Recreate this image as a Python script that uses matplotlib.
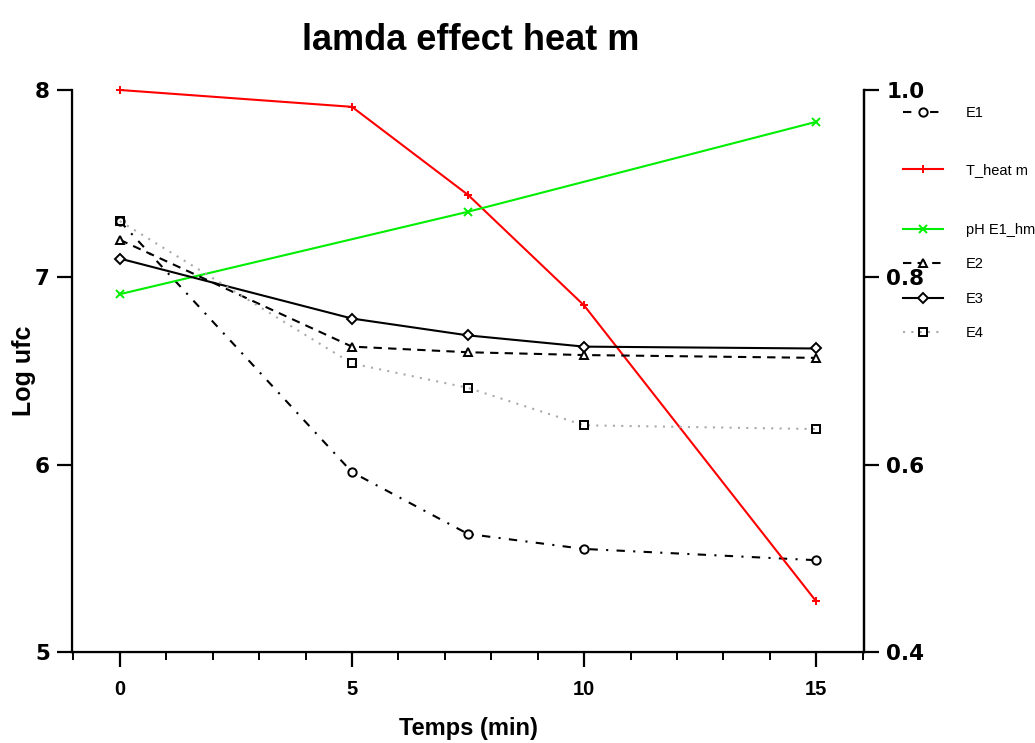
import matplotlib
matplotlib.use("Agg")
import matplotlib.pyplot as plt
from matplotlib.ticker import MultipleLocator, FixedLocator, FormatStrFormatter
from matplotlib import font_manager

# --- data -------------------------------------------------------------
time_all = [0, 5, 7.5, 10, 15]
time_ph = [0, 7.5, 15]

e1 = [7.30, 5.96, 5.63, 5.55, 5.49]
t_heat = [8.00, 7.91, 7.44, 6.85, 5.27]
ph_e1 = [6.91, 7.35, 7.83]
e2 = [7.20, 6.63, 6.60, 6.585, 6.57]
e3 = [7.10, 6.78, 6.69, 6.63, 6.62]
e4 = [7.30, 6.54, 6.41, 6.21, 6.19]

x_ticks = [0, 5, 10, 15]
left_ticks = [5, 6, 7, 8]
right_ticks = [0.4, 0.6, 0.8, 1.0]

# --- fonts ------------------------------------------------------------
names = {f.name for f in font_manager.fontManager.ttflist}
base = "Liberation Sans" if "Liberation Sans" in names else "DejaVu Sans"
narrow = "Liberation Sans Narrow" if "Liberation Sans Narrow" in names else base
wide = "DejaVu Sans"
plt.rcParams["font.family"] = [base, "DejaVu Sans"]

fig = plt.figure(figsize=(10.35, 7.43), dpi=100)
ax = fig.add_axes([0.0696, 0.1225, 0.7652, 0.7564])

lw = 1.5
common = dict(lw=lw, ms=6, mew=1.4, clip_on=False, zorder=3)

l_e1, = ax.plot(time_all, e1, color="black", ls=(0, (4, 4, 1, 4)),
                marker="o", mfc="white", mec="black", label="E1", **common)
l_th, = ax.plot(time_all, t_heat, color="#ff0000", ls="-",
                marker="+", mec="#ff0000", label="T_heat m", **common)
l_ph, = ax.plot(time_ph, ph_e1, color="#00ee00", ls="-",
                marker="x", mec="#00ee00", label="pH E1_hm", **common)
l_e2, = ax.plot(time_all, e2, color="black", ls=(0, (4, 3)),
                marker="^", mfc="white", mec="black", label="E2", **common)
l_e3, = ax.plot(time_all, e3, color="black", ls="-",
                marker="D", mfc="white", mec="black", label="E3",
                **{**common, "ms": 4.8})
l_e4, = ax.plot(time_all, e4, color="#aaaaaa", ls=(0, (1, 3)),
                marker="s", mfc="none", mec="black", label="E4", **common)

ax.set_xlim(-1.03, 16.03)
ax.set_ylim(5, 8)
ax.xaxis.set_major_locator(FixedLocator(x_ticks))
ax.xaxis.set_minor_locator(MultipleLocator(1))
ax.yaxis.set_major_locator(FixedLocator(left_ticks))

ax.spines["top"].set_visible(False)
for s in ("left", "bottom", "right"):
    ax.spines[s].set_linewidth(1.6)

ax.tick_params(axis="both", which="major", direction="out", length=11,
               width=1.6)
ax.tick_params(axis="x", which="minor", direction="out", length=6, width=1.4)
ax.tick_params(axis="x", which="major", pad=9, labelsize=14.5)
ax.tick_params(axis="y", which="major", pad=5, labelsize=15.5)
for lab in ax.get_xticklabels():
    lab.set_fontweight("bold")
    lab.set_family([narrow, "DejaVu Sans"])
for lab in ax.get_yticklabels():
    lab.set_fontweight("bold")
    lab.set_family([wide])

ax2 = ax.twinx()
ax2.set_ylim(0.4, 1.0)
ax2.yaxis.set_major_locator(FixedLocator(right_ticks))
ax2.yaxis.set_major_formatter(FormatStrFormatter("%.1f"))
ax2.spines["top"].set_visible(False)
ax2.spines["right"].set_linewidth(1.6)
ax2.tick_params(axis="y", direction="out", length=11, width=1.6,
                labelsize=15.5, pad=5)
for lab in ax2.get_yticklabels():
    lab.set_fontweight("bold")
    lab.set_family([wide])

ax.set_xlabel("Temps (min)", fontsize=17, fontweight="bold", labelpad=13,
              family=[narrow, "DejaVu Sans"])
ax.set_ylabel("Log ufc", fontsize=18, fontweight="bold")
ax.yaxis.set_label_coords(-0.046, 0.5)
fig.text(0.455, 0.946, "lamda effect heat m", ha="center", va="center",
         fontsize=26, fontweight="bold")

# individual legend entries stacked on the right
entries = [(l_e1, 113), (l_th, 170), (l_ph, 230), (l_e2, 264),
           (l_e3, 299), (l_e4, 333)]
for line, ypix in entries:
    fig.legend([line], [line.get_label()], loc="center left",
               bbox_to_anchor=(903 / 1035, 1 - ypix / 743),
               frameon=False, handlelength=2.75, handletextpad=1.55,
               borderpad=0, borderaxespad=0,
               prop={"family": [narrow, "DejaVu Sans"], "size": 10.5})

fig.savefig("out.png", dpi=100)
